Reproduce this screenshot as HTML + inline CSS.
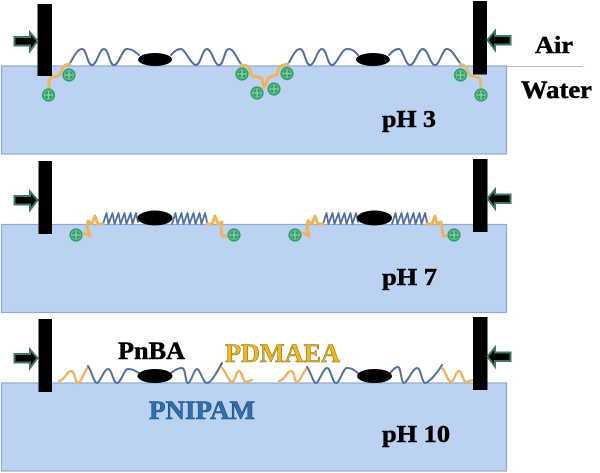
<!DOCTYPE html>
<html>
<head>
<meta charset="utf-8">
<style>
html,body{margin:0;padding:0;background:#fff;width:600px;height:473px;overflow:hidden}
svg{display:block;filter:blur(0.35px)}
text{font-family:"Liberation Serif",serif;font-weight:bold;stroke:#000;stroke-width:0.5}
.r{fill:#bcd2f2;stroke:#8fa9d4;stroke-width:1.2}
.b{fill:none;stroke:#536f9e;stroke-width:2;stroke-linecap:round;stroke-linejoin:round}
.s{fill:none;stroke:#4f6ea6;stroke-width:1.8;stroke-linejoin:round;stroke-linecap:round}
.o{fill:none;stroke:#f0b45c;stroke-width:3;stroke-linecap:round;stroke-linejoin:round}
.o2{fill:none;stroke:#f0b45c;stroke-width:2.4;stroke-linecap:round;stroke-linejoin:round}
.a{fill:#000;stroke:#3d7a5f;stroke-width:2}
</style>
</head>
<body>
<svg width="600" height="473" viewBox="0 0 600 473" xmlns="http://www.w3.org/2000/svg">
<defs>
<g id="p"><circle r="6.6" fill="#2f9e68"/><path d="M-4.500 0H4.500M0 -4.500V4.500" stroke="#8fd4ac" stroke-width="1.300"/><circle r="4.600" fill="none" stroke="#6fc091" stroke-width="0.900"/></g>
<path id="ra" class="a" d="M14.500 37H30V32.500L37.500 41L30 51V45.500H14.500Z"/>
<path id="la" class="a" d="M510.500 36H495V31L487.500 40L495 50V44.500H510.500Z"/>
<path id="sp" class="s" d="M0 11L3.500 0L5.500 11L9.500 0L11.500 11L15.500 0L17.500 11L21.500 0L23.500 11L27.500 0L29.500 11L33 0L35 9"/>
</defs>

<!-- Panel 1 -->
<rect class="r" x="1.500" y="66" width="505" height="88"/>
<line x1="506" y1="66.500" x2="583" y2="66.500" stroke="#a9c2e2" stroke-width="1"/>
<path class="b" d="M70 63C74 57 77 49 82 49S87 65 92 65S99 49 104 49S109 65 114 65S122 49 127 49S134 51 139 55"/>
<path class="b" d="M171 55C175 51 177 49 181 49S191 65 196 65S202 49 207 49S214 65 219 65S224 49 229 49S237 59 241 64"/>
<path class="b" d="M288 64C292 58 295 49 300 49S305 65 310 65S317 49 322 49S327 65 332 65S341 49 347 49S354 51 358 55"/>
<path class="b" d="M389 55C393 51 395 49 399 49S405 65 410 65S418 49 423 49S430 65 435 65S442 49 447 49S456 58 460 63"/>
<path class="o" d="M70 64C64 65 62 67 61 72C60 77 55 77 51 77C49 79 49 84 49 88"/>
<path class="o" d="M241 65C250 65 250 70 251 75C255 78 260 76 262 79L264 88L268 79C270 75 275 77 277 74C278 69 279 65 288 64"/>
<path class="o2" d="M460 64C467 65 467 70 469 74C472 78 478 76 480 79L481 88"/>
<ellipse cx="155" cy="59.500" rx="17" ry="6.500"/>
<ellipse cx="373" cy="59.500" rx="17" ry="6.500"/>
<rect x="37.500" y="4" width="14.500" height="72"/>
<rect x="473" y="1" width="14" height="73.500"/>
<use href="#ra"/><use href="#la"/>
<use href="#p" x="69" y="75"/><use href="#p" x="48.500" y="95"/>
<use href="#p" x="242" y="74"/><use href="#p" x="257" y="93"/><use href="#p" x="274" y="89"/><use href="#p" x="287" y="73.500"/>
<use href="#p" x="460.500" y="75"/><use href="#p" x="481" y="95"/>
<text x="535" y="53" font-size="24" textLength="38" lengthAdjust="spacingAndGlyphs">Air</text>
<text x="521" y="98" font-size="25" textLength="71" lengthAdjust="spacingAndGlyphs">Water</text>
<text x="382" y="127" font-size="24" textLength="54" lengthAdjust="spacingAndGlyphs">pH 3</text>

<!-- Panel 2 -->
<rect class="r" x="1.500" y="224.500" width="505" height="88"/>
<use href="#sp" x="103" y="213"/>
<use href="#sp" x="172" y="213"/>
<use href="#sp" x="323" y="213"/>
<use href="#sp" x="392" y="213"/>
<path class="o" d="M103 224L98 224L95 216L92 224L88 221L87 227L90 236L84 233"/>
<path class="o" d="M207 224L212 224L215 216L218 224L222 222L221 228L222 236L226 236"/>
<path class="o" d="M323 224L318 224L315 216L312 224L308 221L307 228L309 236L303 233"/>
<path class="o" d="M427 224L432 224L435 216L437 224L441 222L442 228L443 236L446 236"/>
<ellipse cx="155" cy="218" rx="17.500" ry="7.500"/>
<ellipse cx="374.500" cy="218" rx="17.500" ry="7.500"/>
<rect x="38.500" y="161" width="13.500" height="73"/>
<rect x="473" y="159" width="14.500" height="73"/>
<use href="#ra" y="159"/><use href="#la" y="158.500"/>
<use href="#p" x="76" y="235"/><use href="#p" x="234" y="235"/><use href="#p" x="295" y="235"/><use href="#p" x="454" y="235"/>
<text x="382" y="285" font-size="24" textLength="55" lengthAdjust="spacingAndGlyphs">pH 7</text>

<!-- Panel 3 -->
<rect class="r" x="1.500" y="383" width="505" height="88"/>
<path class="o2" d="M59 381C64 381 67 371 71 371S75 383 78 383S84 372 88 367"/>
<path class="b" d="M88 366C92 372 94 383 97 383S104 369 108 369S113 383 117 383S124 369 128 369S134 370 139 373"/>
<path class="b" d="M171 373C175 370 178 368 182 368S185 383 188 383S194 369 197 369S203 383 207 383S216 374 222 363"/>
<path class="o2" d="M222 368C226 372 229 382 232 382S236 371 239 371S243 382 246 382L252 380"/>
<path class="o2" d="M279 381C284 381 287 371 291 371S294 382 297 382S303 372 307 368"/>
<path class="b" d="M307 367C311 372 313 383 316 383S323 368 327 368S332 383 336 383S343 368 347 368S353 369 358 373"/>
<path class="b" d="M390 373C393 370 395 367 398 367S401 383 404 383S413 368 417 368S422 383 425 383S436 375 442 365"/>
<path class="o2" d="M442 368C446 372 448 382 451 382S456 371 459 371S463 382 466 382L473 380"/>
<ellipse cx="155" cy="376" rx="17.500" ry="7"/>
<ellipse cx="374.500" cy="376" rx="17.500" ry="7"/>
<rect x="38.500" y="319" width="13.500" height="73"/>
<rect x="473" y="317" width="14.500" height="73"/>
<use href="#ra" y="317"/><use href="#la" y="316.500"/>
<text x="118" y="359" font-size="25" textLength="67" lengthAdjust="spacingAndGlyphs">PnBA</text>
<text x="225" y="362" font-size="26" textLength="115" lengthAdjust="spacingAndGlyphs" style="fill:#f0b818;stroke:#8a7420;stroke-width:0.6">PDMAEA</text>
<text x="149" y="419" font-size="26" textLength="106" lengthAdjust="spacingAndGlyphs" style="fill:#2f6fb0;stroke:#1f4e79;stroke-width:0.6">PNIPAM</text>
<text x="382" y="442" font-size="24" textLength="68" lengthAdjust="spacingAndGlyphs">pH 10</text>
</svg>
</body>
</html>
